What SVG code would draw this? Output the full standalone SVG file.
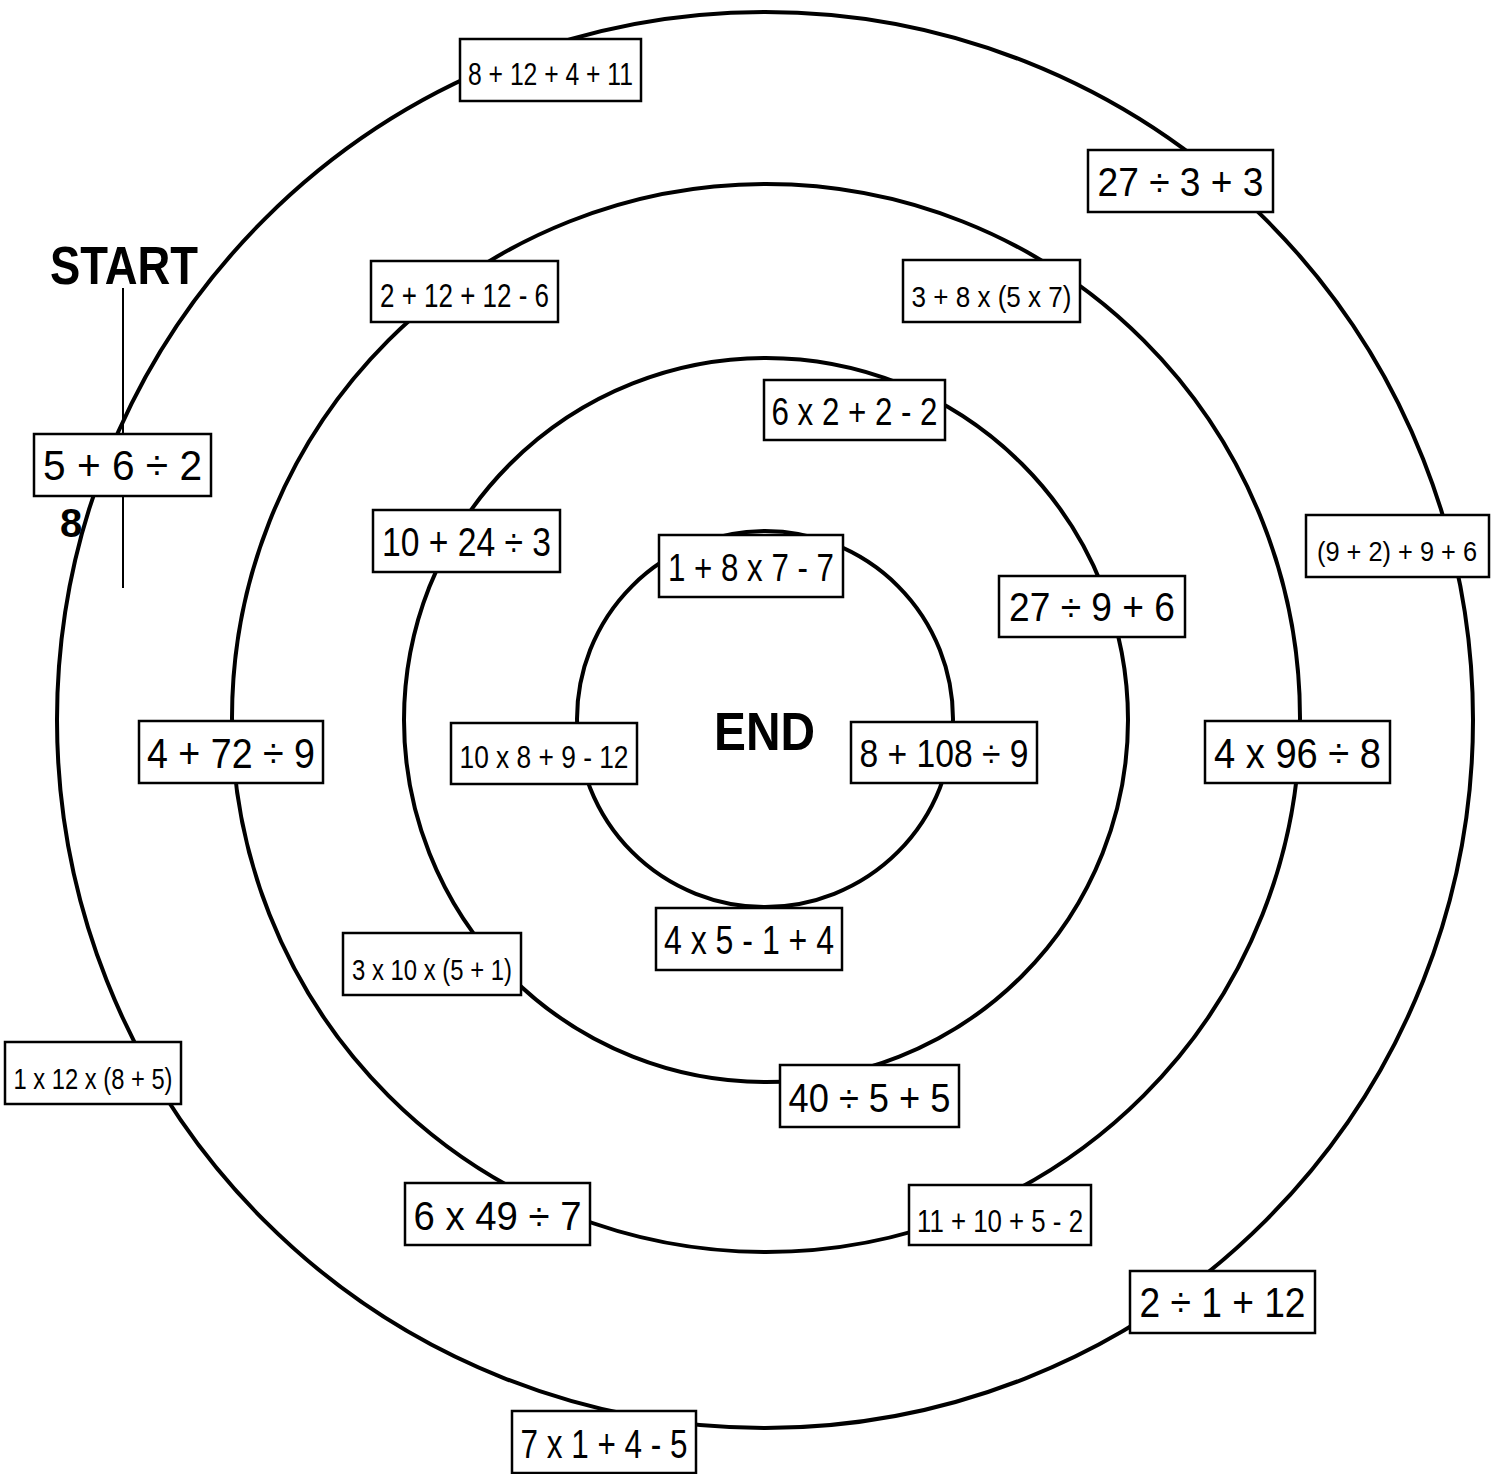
<svg xmlns="http://www.w3.org/2000/svg" width="1500" height="1474" viewBox="0 0 1500 1474">
<style>
.ring{fill:none;stroke:#000;stroke-width:4}
.box{fill:#fff;stroke:#000;stroke-width:2.5}
.t{font-family:"Liberation Sans",Arial,sans-serif;fill:#000;text-anchor:middle}
.b{font-family:"Liberation Sans",Arial,sans-serif;font-weight:bold;fill:#000}
</style>
<rect width="1500" height="1474" fill="#fff"/>
<g id="connectors">
<circle class="ring" cx="765" cy="720" r="708"/>
<circle class="ring" cx="766" cy="718" r="534"/>
<circle class="ring" cx="766" cy="720" r="362"/>
<circle class="ring" cx="765" cy="719" r="188"/>
<line x1="123" y1="288" x2="123" y2="588" stroke="#000" stroke-width="2"/>
</g>
<g id="start"><text class="b" x="50" y="284" font-size="54" textLength="148" lengthAdjust="spacingAndGlyphs">START</text></g>
<g id="end"><text class="b" x="714" y="750" font-size="54" textLength="101" lengthAdjust="spacingAndGlyphs">END</text></g>
<g id="n1"><rect class="box" x="460" y="39" width="181" height="62"/><text class="t" x="550.5" y="85" font-size="31" textLength="165" lengthAdjust="spacingAndGlyphs">8 + 12 + 4 + 11</text></g>
<g id="n2"><rect class="box" x="1088" y="150" width="185" height="62"/><text class="t" x="1180.5" y="196" font-size="40" textLength="166" lengthAdjust="spacingAndGlyphs">27 ÷ 3 + 3</text></g>
<g id="n3"><rect class="box" x="371" y="261" width="187" height="61"/><text class="t" x="464.5" y="307" font-size="33" textLength="169" lengthAdjust="spacingAndGlyphs">2 + 12 + 12 - 6</text></g>
<g id="n4"><rect class="box" x="903" y="260" width="177" height="62"/><text class="t" x="991.5" y="307" font-size="29" textLength="160" lengthAdjust="spacingAndGlyphs">3 + 8 x (5 x 7)</text></g>
<g id="n5"><rect class="box" x="764" y="380" width="181" height="60"/><text class="t" x="854.5" y="425" font-size="38" textLength="166" lengthAdjust="spacingAndGlyphs">6 x 2 + 2 - 2</text></g>
<g id="n6"><rect class="box" x="34" y="434" width="177" height="62"/><text class="t" x="122.5" y="480" font-size="42" textLength="159" lengthAdjust="spacingAndGlyphs">5 + 6 ÷ 2</text></g>
<g id="n6v"><text class="b" x="60" y="537" font-size="40">8</text></g>
<g id="n7"><rect class="box" x="373" y="510" width="187" height="62"/><text class="t" x="466.5" y="556" font-size="40" textLength="169" lengthAdjust="spacingAndGlyphs">10 + 24 ÷ 3</text></g>
<g id="n8"><rect class="box" x="659" y="535" width="184" height="62"/><text class="t" x="751" y="581" font-size="38" textLength="166" lengthAdjust="spacingAndGlyphs">1 + 8 x 7 - 7</text></g>
<g id="n9"><rect class="box" x="999" y="576" width="186" height="61"/><text class="t" x="1092" y="621" font-size="40" textLength="166" lengthAdjust="spacingAndGlyphs">27 ÷ 9 + 6</text></g>
<g id="n10"><rect class="box" x="1306" y="515" width="183" height="62"/><text class="t" x="1397" y="561" font-size="28" textLength="160" lengthAdjust="spacingAndGlyphs">(9 + 2) + 9 + 6</text></g>
<g id="n11"><rect class="box" x="139" y="721" width="184" height="62"/><text class="t" x="231" y="768" font-size="42" textLength="168" lengthAdjust="spacingAndGlyphs">4 + 72 ÷ 9</text></g>
<g id="n12"><rect class="box" x="451" y="723" width="186" height="61"/><text class="t" x="544" y="768" font-size="31" textLength="169" lengthAdjust="spacingAndGlyphs">10 x 8 + 9 - 12</text></g>
<g id="n14"><rect class="box" x="851" y="722" width="186" height="61"/><text class="t" x="944" y="767" font-size="39" textLength="169" lengthAdjust="spacingAndGlyphs">8 + 108 ÷ 9</text></g>
<g id="n15"><rect class="box" x="1205" y="721" width="185" height="62"/><text class="t" x="1297.5" y="768" font-size="42" textLength="167" lengthAdjust="spacingAndGlyphs">4 x 96 ÷ 8</text></g>
<g id="n16"><rect class="box" x="656" y="908" width="186" height="62"/><text class="t" x="749" y="954" font-size="40" textLength="170" lengthAdjust="spacingAndGlyphs">4 x 5 - 1 + 4</text></g>
<g id="n17"><rect class="box" x="343" y="933" width="178" height="62"/><text class="t" x="432" y="980" font-size="29" textLength="160" lengthAdjust="spacingAndGlyphs">3 x 10 x (5 + 1)</text></g>
<g id="n18"><rect class="box" x="5" y="1042" width="176" height="62"/><text class="t" x="93" y="1089" font-size="29" textLength="159" lengthAdjust="spacingAndGlyphs">1 x 12 x (8 + 5)</text></g>
<g id="n19"><rect class="box" x="780" y="1065" width="179" height="62"/><text class="t" x="869.5" y="1112" font-size="40" textLength="162" lengthAdjust="spacingAndGlyphs">40 ÷ 5 + 5</text></g>
<g id="n20"><rect class="box" x="405" y="1183" width="185" height="62"/><text class="t" x="497.5" y="1230" font-size="40" textLength="168" lengthAdjust="spacingAndGlyphs">6 x 49 ÷ 7</text></g>
<g id="n21"><rect class="box" x="909" y="1185" width="182" height="60"/><text class="t" x="1000" y="1232" font-size="31" textLength="166" lengthAdjust="spacingAndGlyphs">11 + 10 + 5 - 2</text></g>
<g id="n22"><rect class="box" x="1130" y="1271" width="185" height="62"/><text class="t" x="1222.5" y="1317" font-size="42" textLength="166" lengthAdjust="spacingAndGlyphs">2 ÷ 1 + 12</text></g>
<g id="n23"><rect class="box" x="512" y="1411" width="184" height="62"/><text class="t" x="604" y="1458" font-size="40" textLength="167" lengthAdjust="spacingAndGlyphs">7 x 1 + 4 - 5</text></g>
</svg>
